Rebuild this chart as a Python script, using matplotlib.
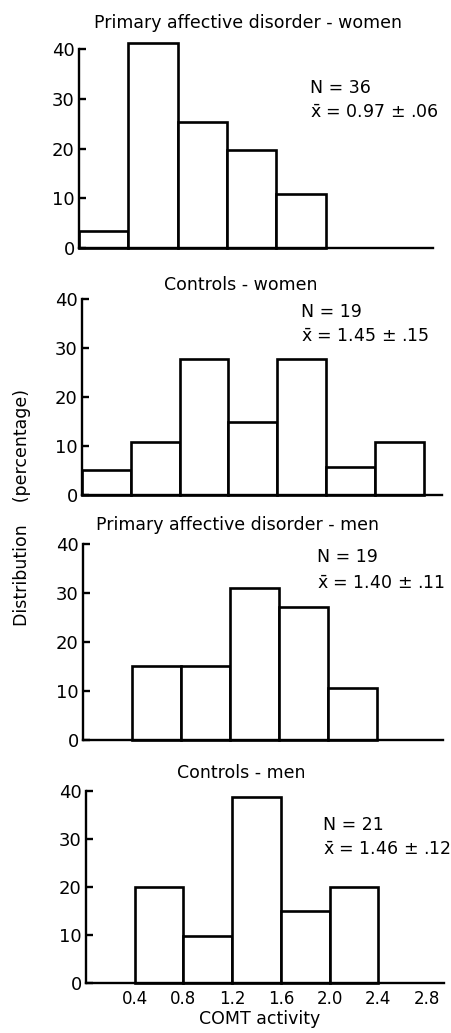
import matplotlib.pyplot as plt

plt.rcParams['font.family'] = ['DejaVu Sans']
plt.rcParams['mathtext.fontset'] = 'dejavusans'

W, H = 452, 1033

# bin left edges (COMT activity) and percentages per panel
titles = ['Primary affective disorder - women', 'Controls - women',
          'Primary affective disorder - men', 'Controls - men']
edges_pw = [0.0, 0.4, 0.8, 1.2, 1.6]
pct_pw = [3.5, 41.2, 25.3, 19.7, 10.9]
edges_cw = [0.0, 0.4, 0.8, 1.2, 1.6, 2.0, 2.4]
pct_cw = [5.2, 10.9, 27.8, 15.0, 27.8, 5.7, 10.8]
edges_pm = [0.4, 0.8, 1.2, 1.6, 2.0]
pct_pm = [15.2, 15.2, 31.1, 27.1, 10.7]
edges_cm = [0.4, 0.8, 1.2, 1.6, 2.0]
pct_cm = [19.9, 9.7, 38.8, 15.0, 19.9]
n_vals = [36, 19, 19, 21]
means = ['0.97 ± .06', '1.45 ± .15', '1.40 ± .11', '1.46 ± .12']
xticks = [0.4, 0.8, 1.2, 1.6, 2.0, 2.4, 2.8]
yticks = [0, 10, 20, 30, 40]

edges = [edges_pw, edges_cw, edges_pm, edges_cm]
pcts = [pct_pw, pct_cw, pct_pm, pct_cm]

# layout in pixels: left, right, y of 0, y of 40, x max
boxes = [(79, 433, 248, 49, 2.87),
         (82, 442, 495, 299, 2.95),
         (83, 443, 740, 544, 2.94),
         (86, 444, 983, 791, 2.94)]
title_pos = [(248, 23), (241, 285), (238, 525), (241, 773)]
stat_pos = [(310, 88, 113), (301, 312, 337), (317, 557, 584), (323, 825, 850)]

fig = plt.figure(figsize=(W / 100, H / 100), dpi=100)

for i in range(4):
    l, r, y0, y40, xmax = boxes[i]
    ax = fig.add_axes([l / W, 1 - y0 / H, (r - l) / W, (y0 - y40) / H])
    ax.bar(edges[i], pcts[i], width=0.4, align='edge', color='white',
           edgecolor='black', linewidth=1.9, clip_on=False)
    ax.set_xlim(0, xmax)
    ax.set_ylim(0, 40)
    for s in ['top', 'right']:
        ax.spines[s].set_visible(False)
    for s in ['left', 'bottom']:
        ax.spines[s].set_linewidth(1.7)
    ax.set_yticks(yticks)
    ax.tick_params(axis='y', direction='in', length=5, width=1.7,
                   labelsize=13, pad=3)
    if i == 3:
        ax.set_xticks(xticks)
        ax.set_xticklabels([f'{v:.1f}' for v in xticks])
        ax.tick_params(axis='x', length=0, labelsize=12, pad=5)
    else:
        ax.set_xticks([])

    tx, ty = title_pos[i]
    fig.text(tx / W, 1 - ty / H, titles[i], ha='center', va='center', fontsize=12.5)
    sx, sy1, sy2 = stat_pos[i]
    fig.text(sx / W, 1 - sy1 / H, f'N = {n_vals[i]}', ha='left', va='center', fontsize=12.5)
    fig.text(sx / W, 1 - sy2 / H, r'$\bar{\mathrm{x}}$' + f' = {means[i]}',
             ha='left', va='center', fontsize=12.5)

fig.text(260 / W, 1 - 1024 / H, 'COMT activity', ha='center', va='baseline', fontsize=12.5)
fig.text(22 / W, 1 - 507 / H, 'Distribution    (percentage)', ha='center', va='center',
         rotation=90, fontsize=12.5)

fig.savefig('out.png', dpi=100)
